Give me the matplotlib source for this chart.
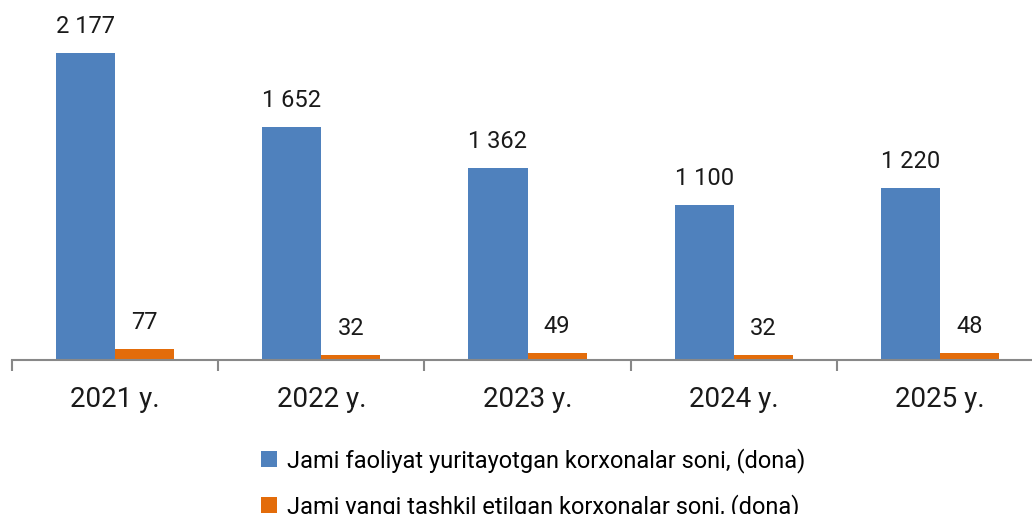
import matplotlib
matplotlib.use("Agg")
import matplotlib.pyplot as plt
import numpy as np

# chart data
years = ["2021 y.", "2022 y.", "2023 y.", "2024 y.", "2025 y."]
active = [2177, 1652, 1362, 1100, 1220]
new = [77, 32, 49, 32, 48]
labels = ["Jami faoliyat yuritayotgan korxonalar soni, (dona)",
          "Jami yangi tashkil etilgan korxonalar soni, (dona)"]

plt.rcParams['font.family'] = ['Roboto', 'DejaVu Sans']

blue = "#4F81BD"
orange = "#E36C0A"

fig = plt.figure(figsize=(10.32, 5.14), dpi=100)
# the plot area runs a little past the right edge, like in the original
ax = fig.add_axes([12 / 1032, 1 - 360 / 514, 1031 / 1032, 360 / 514])

x = np.arange(len(years))
w = 0.287
b1 = ax.bar(x - w / 2, active, w, color=blue, label=labels[0])
b2 = ax.bar(x + w / 2, new, w, color=orange, label=labels[1])

def fmt(v):
    return f"{v:,}".replace(",", " ")

for bars, vals in ((b1, active), (b2, new)):
    for r, v in zip(bars, vals):
        ax.annotate(fmt(v), (r.get_x() + r.get_width() / 2, v),
                    xytext=(0, 11), textcoords="offset points",
                    ha="center", va="bottom", fontsize=17, color="#1a1a1a")

ax.set_xlim(-0.5, len(years) - 0.5)
ax.set_ylim(0, 2553)
ax.set_yticks([])
for s in ["top", "right", "left"]:
    ax.spines[s].set_visible(False)
ax.spines["bottom"].set_color("#888888")
ax.spines["bottom"].set_linewidth(1.5)

# category boundaries get the ticks, labels go in the middle
ax.set_xticks(np.arange(len(years) + 1) - 0.5)
ax.set_xticklabels([])
ax.tick_params(axis="x", length=8, width=1.5, color="#888888")
ax.set_xticks(x, minor=True)
ax.set_xticklabels(years, minor=True, fontsize=20, color="#1a1a1a")
ax.tick_params(axis="x", which="minor", length=0, pad=19)

leg = fig.legend(handles=[b1, b2], labels=labels, loc="upper left",
                 bbox_to_anchor=(249 / 1032, 1 - 436 / 514), frameon=False,
                 fontsize=17, handlelength=0.7, handleheight=0.7,
                 handletextpad=0.4, labelspacing=0.9, borderpad=0)

fig.savefig("out.png", dpi=100)
